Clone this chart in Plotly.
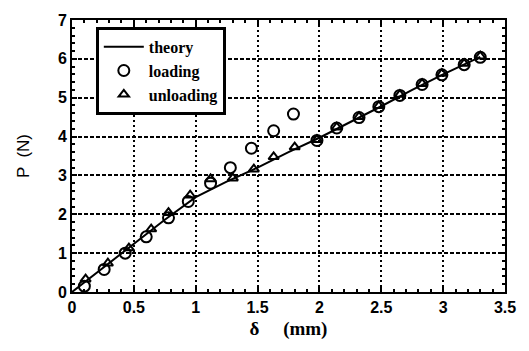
import plotly.graph_objects as go

# theory curve
theory_d = [0, 0.25, 0.5, 0.75, 1.0, 1.25, 1.5, 1.75, 2.0, 2.25, 2.5, 2.75, 3.0, 3.3]
theory_p = [0, 0.62, 1.22, 1.86, 2.44, 2.84, 3.2, 3.6, 3.97, 4.37, 4.78, 5.2, 5.6, 6.05]

# loading (circles)
load_d = [0.10, 0.26, 0.43, 0.60, 0.78, 0.94, 1.12, 1.28, 1.45, 1.63, 1.79, 1.98, 2.14, 2.32, 2.48, 2.65, 2.83, 2.99, 3.17, 3.30]
load_p = [0.15, 0.58, 1.00, 1.42, 1.91, 2.33, 2.80, 3.20, 3.70, 4.15, 4.58, 3.90, 4.22, 4.49, 4.77, 5.06, 5.34, 5.59, 5.85, 6.04]

# unloading (triangles)
unload_d = [0.11, 0.29, 0.46, 0.64, 0.78, 0.955, 1.12, 1.30, 1.47, 1.63, 1.80, 1.98, 2.14, 2.32, 2.48, 2.65, 2.83, 2.99, 3.17, 3.30]
unload_p = [0.33, 0.74, 1.13, 1.62, 2.04, 2.49, 2.91, 2.93, 3.16, 3.48, 3.73, 3.92, 4.24, 4.51, 4.79, 5.08, 5.36, 5.62, 5.88, 6.07]

x_ticks = [0, 0.5, 1, 1.5, 2, 2.5, 3, 3.5]
x_tick_labels = ["0", "0.5", "1", "1.5", "2", "2.5", "3", "3.5"]
y_ticks = [0, 1, 2, 3, 4, 5, 6, 7]

fig = go.Figure()
fig.add_trace(go.Scatter(x=theory_d, y=theory_p, mode="lines", name="theory",
                         line=dict(color="black", width=2)))
fig.add_trace(go.Scatter(x=load_d, y=load_p, mode="markers", name="loading",
                         marker=dict(symbol="circle-open", size=11, color="black",
                                     line=dict(width=2, color="black"))))
fig.add_trace(go.Scatter(x=unload_d, y=unload_p, mode="markers", name="unloading",
                         marker=dict(symbol="triangle-up-open", size=9, color="black",
                                     line=dict(width=2, color="black"))))

axis_common = dict(
    showline=True, linecolor="black", linewidth=2, mirror="allticks",
    ticks="inside", ticklen=5, tickwidth=2, tickcolor="black",
    showgrid=True, gridcolor="black", gridwidth=2, zeroline=False,
    tickfont=dict(family="Arial", size=16, color="black", weight="bold"),
)

fig.update_xaxes(range=[0, 3.5], tickvals=x_ticks, ticktext=x_tick_labels,
                 griddash="2px,3px",
                 minor=dict(dtick=0.1, ticks="inside", ticklen=3, tickwidth=1.5, tickcolor="black", showgrid=False),
                 title=dict(text="δ     (mm)", font=dict(family="Liberation Serif", size=19, color="black", weight="bold"), standoff=6),
                 **axis_common)
fig.update_yaxes(range=[0, 7], tickvals=y_ticks,
                 griddash="4px,2px",
                 minor=dict(dtick=0.2, ticks="inside", ticklen=3, tickwidth=1.5, tickcolor="black", showgrid=False),
                 title=dict(text="P  (N)", font=dict(family="Liberation Sans", size=17, color="black"), standoff=24),
                 **axis_common)

fig.update_layout(
    width=529, height=351,
    margin=dict(l=72, r=24, t=16, b=59),
    paper_bgcolor="white", plot_bgcolor="white",
    showlegend=True,
    legend=dict(x=0.055, y=0.975, xanchor="left", yanchor="top",
                bgcolor="white", bordercolor="black", borderwidth=3,
                font=dict(family="Liberation Serif", size=16, color="black", weight="bold"),
                tracegroupgap=0, itemwidth=40),
)

fig.write_html("out.html", config={"displayModeBar": False},
               post_script="document.body.style.margin='0';document.body.style.overflow='hidden';")
